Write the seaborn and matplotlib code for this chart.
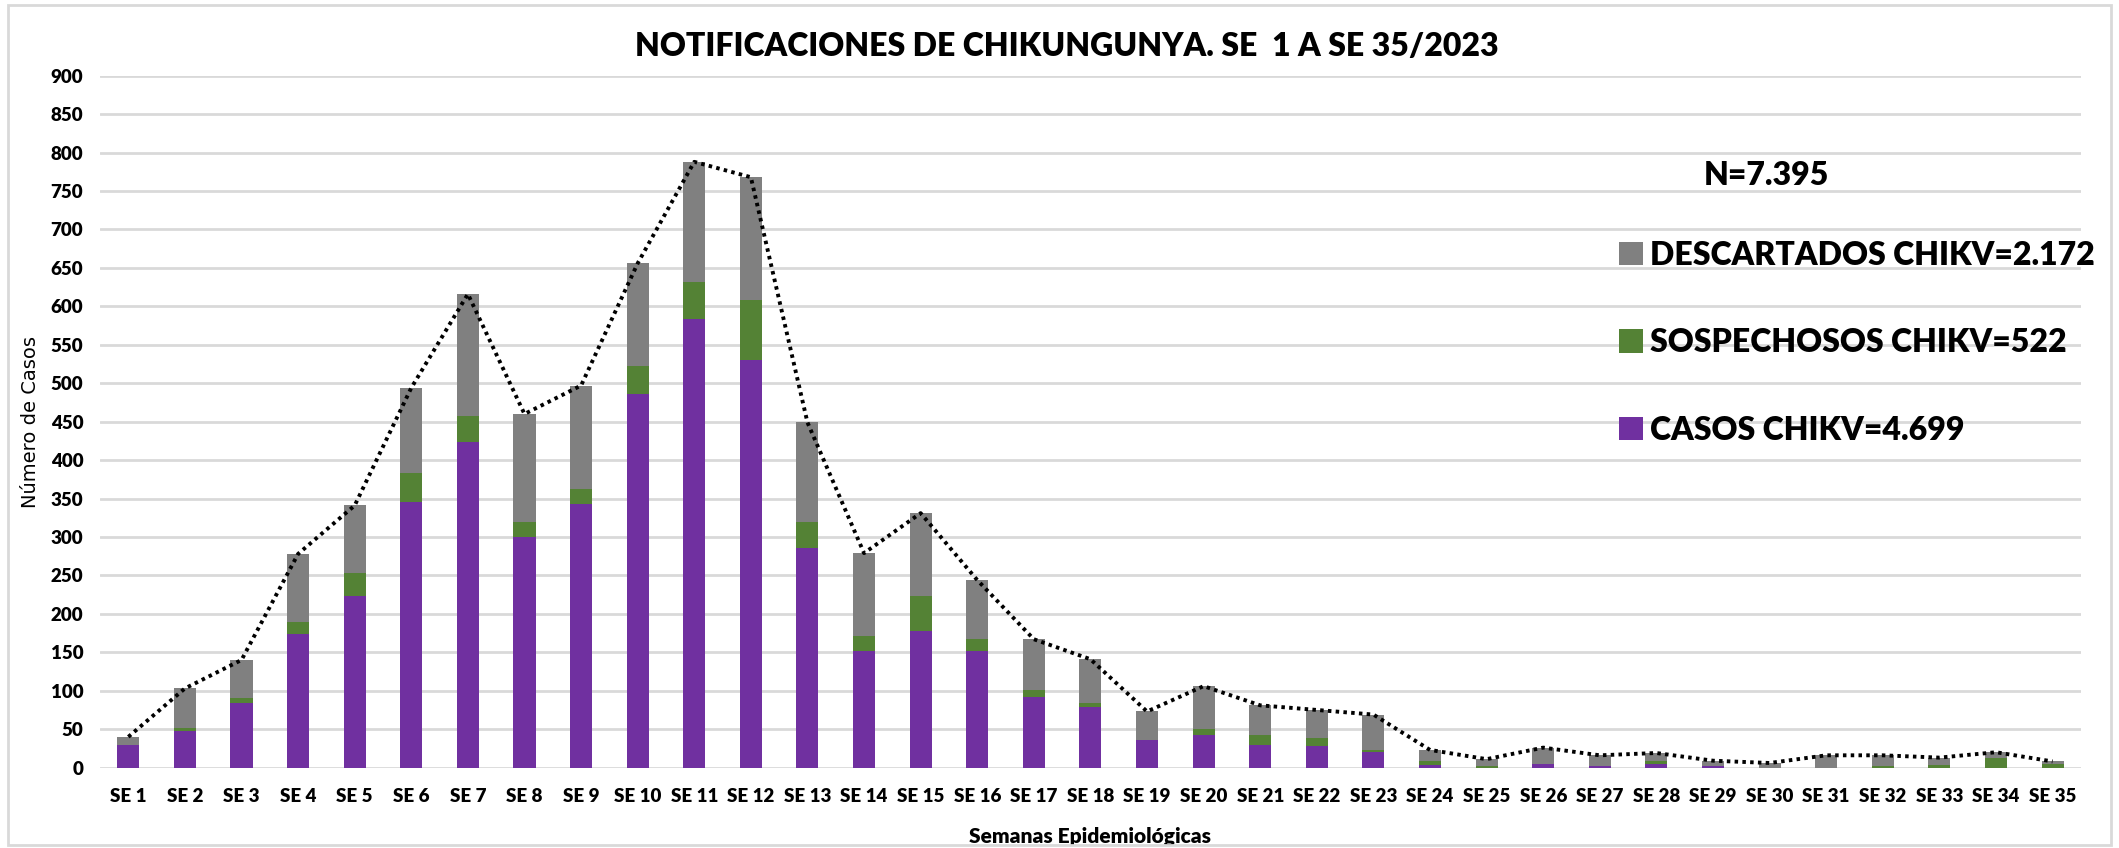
import matplotlib
matplotlib.use("Agg")
import matplotlib.pyplot as plt
import matplotlib.patches as mpatches
import numpy as np
import seaborn as sns

weeks = [f"SE {i}" for i in range(1, 36)]
casos = [29, 48, 84, 174, 223, 346, 423, 300, 343, 486, 583, 530, 286, 152, 178, 152,
         92, 79, 36, 43, 29, 28, 20, 4, 0, 5, 2, 5, 2, 0, 0, 0, 0, 0, 0]
sospechosos = [0, 3, 7, 15, 30, 37, 34, 19, 19, 36, 49, 78, 34, 19, 45, 15,
               9, 5, 0, 7, 13, 10, 3, 5, 2, 0, 0, 3, 0, 0, 0, 2, 4, 12, 5]
descartados = [11, 52, 49, 89, 88, 111, 159, 141, 135, 134, 156, 160, 129, 108, 108, 77,
               66, 57, 37, 56, 39, 37, 46, 14, 9, 21, 14, 11, 7, 6, 16, 14, 9, 8, 3]
labels = ["CASOS CHIKV=4.699", "SOSPECHOSOS CHIKV=522", "DESCARTADOS CHIKV=2.172"]
title = "NOTIFICACIONES DE CHIKUNGUNYA. SE  1 A SE 35/2023"
n_text = "N=7.395"

PURPLE = "#7030A0"
GREEN = "#548235"
GRAY = "#808080"
GRID = "#D9D9D9"

sns.set_theme(style="white")
plt.rcParams["font.family"] = ["Lato", "DejaVu Sans"]
plt.rcParams.update({"text.color": "black", "axes.labelcolor": "black",
                     "xtick.color": "black", "ytick.color": "black"})

fig = plt.figure(figsize=(21.19, 8.48), dpi=100)
ax = fig.add_axes([0.0472, 0.0948, 0.9348, 0.8159])

c = np.array(casos)
s = np.array(sospechosos)
d = np.array(descartados)
total = c + s + d

sns.barplot(x=weeks, y=c, color=PURPLE, saturation=1, width=0.39, ax=ax,
            label=labels[0], zorder=3, linewidth=0)
sns.barplot(x=weeks, y=s, bottom=c, color=GREEN, saturation=1, width=0.39, ax=ax,
            label=labels[1], zorder=3, linewidth=0)
sns.barplot(x=weeks, y=d, bottom=c + s, color=GRAY, saturation=1, width=0.39, ax=ax,
            label=labels[2], zorder=3, linewidth=0)
sns.lineplot(x=np.arange(len(weeks)), y=total, color="black", lw=2.8,
             dashes=False, ax=ax, zorder=4)
ax.lines[-1].set_linestyle((0, (0.9, 1.1)))

ax.set_xlim(-0.5, len(weeks) - 0.5)
ax.set_ylim(0, 900)
ax.set_yticks(np.arange(0, 901, 50))
ax.yaxis.grid(True, color=GRID, lw=2, zorder=0)
ax.xaxis.grid(False)
for sp in ax.spines.values():
    sp.set_visible(False)
ax.tick_params(axis="both", length=0, labelsize=13.5, colors="black")
ax.tick_params(axis="y", pad=12)
ax.tick_params(axis="x", pad=15)
for t in ax.get_xticklabels() + ax.get_yticklabels():
    t.set_fontweight("heavy")

ax.set_ylabel("Número de Casos", fontsize=14, family=["DejaVu Sans"], color="black")
ax.yaxis.set_label_coords(-0.0305, 0.5)
ax.set_xlabel("Semanas Epidemiológicas", fontsize=15, fontweight="heavy", color="black")
ax.xaxis.set_label_coords(0.5, -0.0857)

fig.text(0.5035, 0.9446, title, ha="center", va="center", fontsize=23, fontweight="heavy")
fig.text(0.8335, 0.7925, n_text, ha="center", va="center", fontsize=23, fontweight="heavy")

h, l = ax.get_legend_handles_labels()
order = [2, 1, 0]
leg = fig.legend([h[i] for i in order], [l[i] for i in order], loc="upper left",
                 bbox_to_anchor=(0.7506, 0.75), frameon=False,
                 handlelength=0.75, handleheight=0.75, handletextpad=0.2,
                 labelspacing=1.83, prop={"weight": "heavy", "size": 23})
for t in leg.get_texts():
    t.set_color("black")
if ax.get_legend() is not None:
    ax.get_legend().remove()

fig.add_artist(mpatches.Rectangle((0.004, 0.004), 0.992, 0.99, transform=fig.transFigure,
                                  fill=False, edgecolor=GRID, lw=2))

fig.savefig("out.png", dpi=100, facecolor="white")
